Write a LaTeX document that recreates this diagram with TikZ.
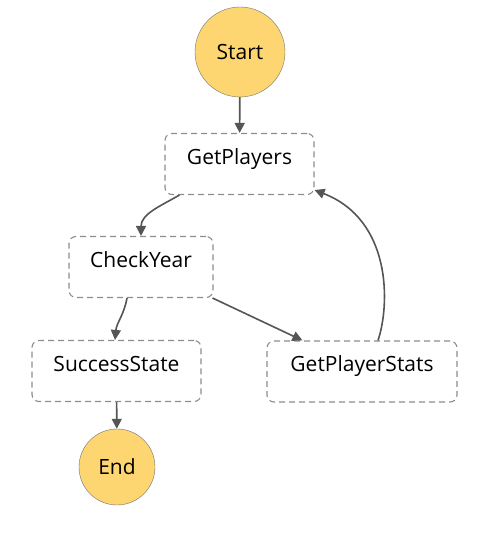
\documentclass[tikz,border=0pt]{standalone}
\usepackage{fontspec}
\setmainfont{Open Sans}
\usetikzlibrary{arrows.meta, positioning}

\definecolor{stateyellow}{HTML}{FDD671}
\definecolor{edgegray}{HTML}{555555}
\definecolor{boxgray}{HTML}{8C8C8C}

\begin{document}
\begin{tikzpicture}[
    % one unit = one pixel of the 487x540 layout
    x=1pt,
    y=1pt,
    >={Triangle[length=10pt, width=10pt]},
    terminal/.style={circle, draw=gray!90!black, fill=stateyellow, inner sep=0pt, font=\fontsize{21}{24}\selectfont},
    task/.style={rectangle, draw=boxgray, dash pattern=on 6pt off 4pt, rounded corners=7pt, line width=1.1pt,
        inner xsep=0pt, inner ysep=0pt, text height=31pt, text depth=30pt, align=center,
        font=\fontsize{21}{24}\selectfont},
    flow/.style={->, draw=edgegray, line width=1.6pt}
]
    \useasboundingbox (0,0) rectangle (487,540);

    % --- States ---
    \node[terminal, minimum size=90pt] (start) at (240, 488) {Start};
    \node[task, minimum width=149pt] (getplayers) at (239.5, 376) {GetPlayers};
    \node[task, minimum width=144pt] (checkyear) at (141, 273) {CheckYear};
    \node[task, minimum width=169pt] (success) at (116.5, 169) {SuccessState};
    \node[task, minimum width=190pt] (stats) at (362, 168.5) {GetPlayerStats};
    \node[terminal, minimum size=76pt] (end) at (117, 73) {End};

    % --- Transitions ---
    \draw[flow] (start) -- (getplayers);
    \draw[flow] ([xshift=15pt]getplayers.south west) to[out=-150, in=90] (checkyear.north);
    \draw[flow] ([xshift=-14pt]checkyear.south) to[out=-100, in=85] ([xshift=-1.5pt]success.north);
    \draw[flow] ([xshift=-1pt]checkyear.south east) -- ([xshift=36pt]stats.north west);
    \draw[flow] ([xshift=16pt]stats.north) .. controls (390,235) and (392,320) .. ([yshift=5pt]getplayers.south east);
    \draw[flow] (success) -- (end);

\end{tikzpicture}
\end{document}
